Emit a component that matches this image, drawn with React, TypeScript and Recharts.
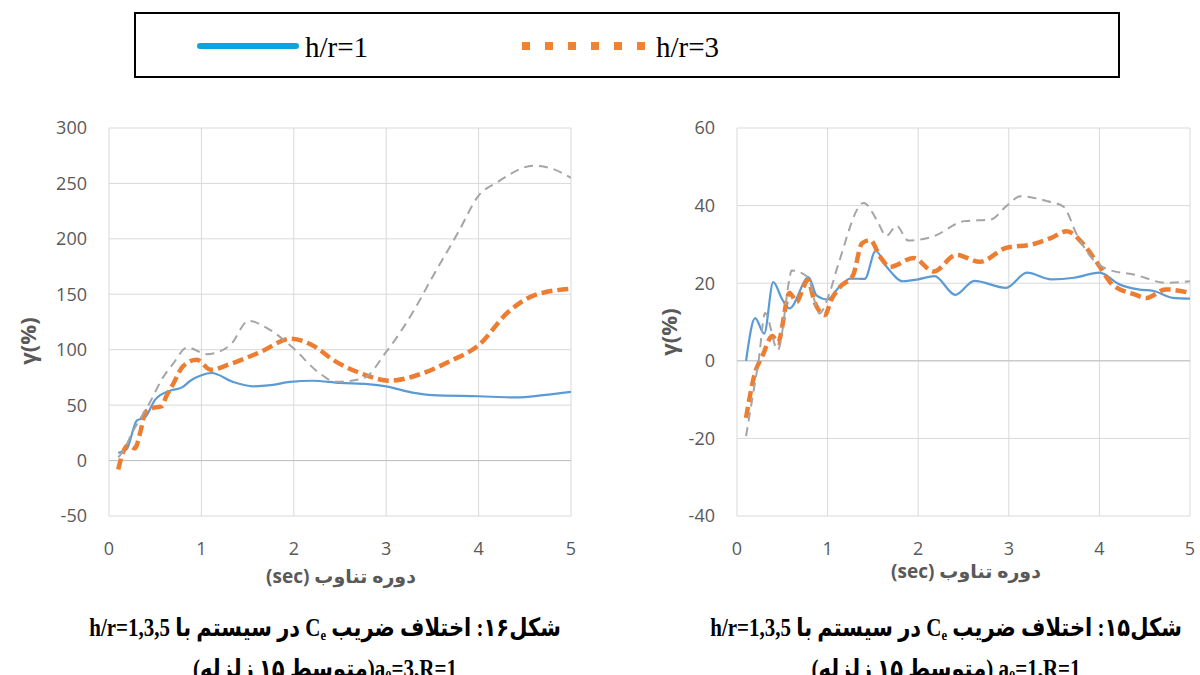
import React from "react";
import { LineChart, Line, XAxis, YAxis, CartesianGrid, ReferenceLine } from "recharts";

// x axis: period (sec)
const periodTicks = [0, 1, 2, 3, 4, 5];
const fig16Ticks = [-50, 0, 50, 100, 150, 200, 250, 300];
const fig15Ticks = [-40, -20, 0, 20, 40, 60];

// fig 16 (a0=3, R=1)
const f16T1 = [0.1, 0.19, 0.3, 0.39, 0.5, 0.66, 0.79, 0.88, 1.0, 1.11, 1.34, 1.56, 1.75, 1.96, 2.2, 2.5, 2.8, 3.0, 3.3, 3.5, 4.0, 4.4, 4.7, 5.0];
const f16G1 = [7, 10, 36, 39, 55, 63, 66, 72, 77, 79, 71, 67, 68, 71, 72, 70, 69, 67, 61, 59, 58, 57, 59, 62];
const f16T3 = [0.1, 0.15, 0.21, 0.28, 0.34, 0.39, 0.46, 0.57, 0.62, 0.7, 0.8, 0.95, 1.1, 1.31, 1.64, 1.97, 2.2, 2.46, 2.75, 3.04, 3.37, 3.7, 4.0, 4.32, 4.6, 5.0];
const f16G3 = [-8, 7, 14, 11, 26, 43, 47, 49, 58, 70, 85, 91, 82, 87, 98, 110, 104, 89, 78, 72, 78, 90, 104, 134, 149, 155];
const f16T5 = [0.1, 0.15, 0.25, 0.44, 0.57, 0.69, 0.85, 1.06, 1.31, 1.51, 1.72, 2.0, 2.26, 2.46, 2.75, 3.0, 3.29, 3.49, 3.78, 4.0, 4.2, 4.6, 4.77, 5.0];
const f16G5 = [3, 8, 25, 52, 73, 87, 102, 96, 104, 126, 119, 101, 80, 71, 74, 98, 134, 164, 206, 239, 251, 266, 264, 255];

// fig 15 (a0=1, R=1)
const f15T1 = [0.1, 0.2, 0.3, 0.4, 0.5, 0.58, 0.79, 0.88, 1.0, 1.12, 1.25, 1.41, 1.53, 1.66, 1.83, 2.0, 2.18, 2.41, 2.62, 2.97, 3.2, 3.47, 3.72, 4.0, 4.22, 4.43, 4.6, 4.81, 5.0];
const f15G1 = [0, 11, 7, 20.3, 15.8, 13.5, 21.5, 16.8, 15.8, 18.8, 21.2, 21.1, 28.3, 24, 20.5, 21, 21.8, 17, 20.6, 18.8, 22.7, 21, 21.4, 22.7, 19.7, 18.4, 18, 16.2, 16];
const f15T3 = [0.1, 0.2, 0.28, 0.39, 0.45, 0.58, 0.66, 0.73, 0.78, 0.86, 0.97, 1.04, 1.14, 1.28, 1.38, 1.47, 1.58, 1.69, 1.95, 2.17, 2.42, 2.68, 2.97, 3.26, 3.47, 3.64, 3.81, 4.0, 4.14, 4.39, 4.52, 4.73, 5.0];
const f15G3 = [-14.7, -3, 1.2, 6.4, 4.6, 17.5, 15.2, 18.8, 20.8, 14.9, 11.8, 15.7, 19.1, 22, 30.3, 31.1, 26.8, 24.2, 26.5, 23, 27.3, 25.5, 29.1, 30, 31.7, 33.4, 30.4, 24.4, 19.7, 17.1, 16.2, 18.4, 17.5];
const f15T5 = [0.1, 0.18, 0.24, 0.31, 0.45, 0.58, 0.6, 0.78, 0.91, 1.02, 1.12, 1.4, 1.54, 1.65, 1.76, 1.89, 2.16, 2.51, 2.8, 2.97, 3.13, 3.43, 3.6, 3.76, 3.93, 4.1, 4.39, 4.73, 5.0];
const f15G5 = [-19.4, -8.2, 0.3, 12.3, 2.8, 21.2, 23.3, 21.6, 12.2, 17.4, 25, 40.7, 36.4, 32.2, 34.8, 31, 32, 36, 36.4, 39.8, 42.4, 41.1, 39.8, 32.1, 26.1, 23.5, 22.2, 20.1, 20.5];

const zip = (t: number[], g: number[]) => t.map((x, i) => ({ x, y: g[i] }));

const BLUE = "#5b9bd5";
const ORANGE = "#ed7d31";
const GRAY = "#a5a5a5";

const tickStyle = { fill: "#595959", fontSize: 18, fontFamily: "'Open Sans', sans-serif" };

type Series = { name: string; data: { x: number; y: number }[]; color: string; width: number; dash?: string };

function Panel(props: { left: number; yWidth: number; right: number; domain: [number, number]; ticks: number[]; series: Series[] }) {
  const { left, yWidth, right, domain, ticks, series } = props;
  return (
    <div style={{ position: "absolute", left, top: 0 }}>
      <LineChart width={600} height={600} margin={{ top: 128, right, bottom: 54, left: 0 }}>
        <CartesianGrid stroke="#d9d9d9" />
        <XAxis type="number" dataKey="x" domain={[0, 5]} ticks={periodTicks} interval={0} allowDataOverflow
          axisLine={false} tickLine={false} tickSize={0} tickMargin={26} height={30} tick={tickStyle} />
        <YAxis type="number" domain={domain} ticks={ticks} interval={0} allowDataOverflow
          axisLine={false} tickLine={false} tickSize={0} tickMargin={22} width={yWidth} tick={tickStyle} />
        <ReferenceLine y={0} stroke="#bfbfbf" />
        {series.map(s => (
          <Line key={s.name} data={s.data} dataKey="y" type="monotone" stroke={s.color} strokeWidth={s.width}
            strokeDasharray={s.dash} dot={false} activeDot={false} isAnimationActive={false} />
        ))}
      </LineChart>
    </div>
  );
}

const axisTitle: React.CSSProperties = {
  position: "absolute", color: "#595959", fontWeight: 700, fontSize: 19,
  fontFamily: "'Open Sans', 'DejaVu Sans', sans-serif", whiteSpace: "nowrap", direction: "rtl",
};

const caption: React.CSSProperties = {
  position: "absolute", width: 600, textAlign: "center", direction: "rtl", color: "#000",
  fontFamily: "'Liberation Serif', 'DejaVu Sans', serif", fontWeight: 700, fontSize: 21, lineHeight: "38px", whiteSpace: "nowrap",
};

const line: React.CSSProperties = { transform: "scaleY(1.2)" };
const sub: React.CSSProperties = { fontSize: "0.6em", position: "relative", top: "0.25em" };

export default function App() {
  const fig16: Series[] = [
    { name: "h/r=1", data: zip(f16T1, f16G1), color: BLUE, width: 2.2 },
    { name: "h/r=3", data: zip(f16T3, f16G3), color: ORANGE, width: 4.5, dash: "11 5" },
    { name: "h/r=5", data: zip(f16T5, f16G5), color: GRAY, width: 2, dash: "9 6" },
  ];
  const fig15: Series[] = [
    { name: "h/r=1", data: zip(f15T1, f15G1), color: BLUE, width: 2.2 },
    { name: "h/r=3", data: zip(f15T3, f15G3), color: ORANGE, width: 4.5, dash: "11 5" },
    { name: "h/r=5", data: zip(f15T5, f15G5), color: GRAY, width: 2, dash: "9 6" },
  ];
  return (
    <div style={{ position: "absolute", left: 0, top: 0, width: 1200, height: 675, background: "#fff", overflow: "hidden" }}>
      <svg width={1200} height={90} style={{ position: "absolute", left: 0, top: 0 }}>
        <rect x={135} y={13} width={984} height={64} fill="#fff" stroke="#000" strokeWidth={2} />
        <line x1={200} y1={46} x2={296} y2={46} stroke="#0aa3e6" strokeWidth={6} strokeLinecap="round" />
        <text x={305} y={57} fontFamily="'Liberation Serif', serif" fontSize={29} fill="#000">h/r=1</text>
        <line x1={522} y1={46} x2={650} y2={46} stroke="#f5822a" strokeWidth={8} strokeDasharray="8 15" />
        <text x={656} y={57} fontFamily="'Liberation Serif', serif" fontSize={29} fill="#000">h/r=3</text>
      </svg>

      <Panel left={0} yWidth={109} right={29} domain={[-50, 300]} ticks={fig16Ticks} series={fig16} />
      <Panel left={600} yWidth={137} right={10} domain={[-40, 60]} ticks={fig15Ticks} series={fig15} />

      <div style={{ ...axisTitle, left: 2, top: 326, width: 50, textAlign: "center", direction: "ltr", fontSize: 22, transform: "rotate(-90deg)" }}>γ(%)</div>
      <div style={{ ...axisTitle, left: 643, top: 317, width: 50, textAlign: "center", direction: "ltr", fontSize: 22, transform: "rotate(-90deg)" }}>γ(%)</div>

      <div style={{ ...axisTitle, left: 191, top: 563, width: 300, textAlign: "center" }}>دوره تناوب (sec)</div>
      <div style={{ ...axisTitle, left: 816, top: 558, width: 300, textAlign: "center" }}>دوره تناوب  (sec)</div>

      <div style={{ ...caption, left: 25, top: 609 }}>
        <div style={line}>شکل۱۶: اختلاف ضریب C<span style={sub}>e</span> در سیستم با h/r=1,3,5</div>
        <div style={line}>a<span style={sub}>0</span>=3,R=1(متوسط ۱۵ زلزله)</div>
      </div>
      <div style={{ ...caption, left: 646, top: 609 }}>
        <div style={line}>شکل۱۵: اختلاف ضریب C<span style={sub}>e</span> در سیستم با h/r=1,3,5</div>
        <div style={line}>a<span style={sub}>0</span>=1,R=1 (متوسط ۱۵ زلزله)</div>
      </div>
    </div>
  );
}
